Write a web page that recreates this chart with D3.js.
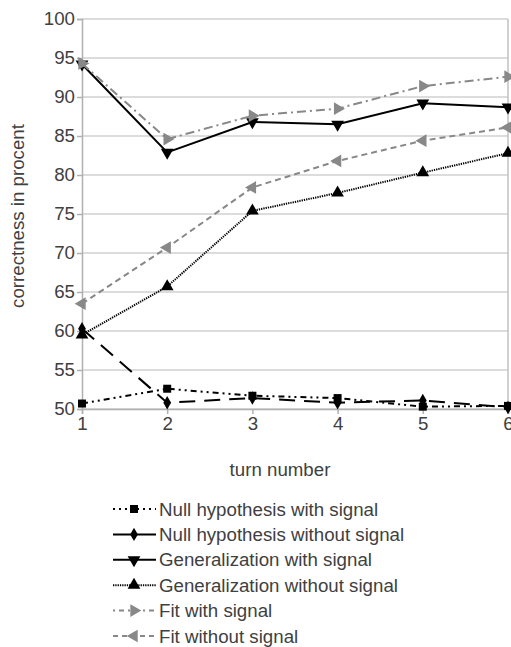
<!DOCTYPE html>
<html><head><meta charset="utf-8">
<script src="https://cdn.jsdelivr.net/npm/d3@7"></script>
<style>body{margin:0;background:#fff}svg{display:block;font-family:"Liberation Sans",Arial,sans-serif}</style>
</head><body>
<script>
const turns = [1, 2, 3, 4, 5, 6];
const yTicks = [50, 55, 60, 65, 70, 75, 80, 85, 90, 95, 100];
const seriesNames = ["Null hypothesis with signal","Null hypothesis without signal","Generalization with signal","Generalization without signal","Fit with signal","Fit without signal"];
const nullWithSignal = [50.7, 52.6, 51.7, 51.4, 50.3, 50.4];
const nullWithoutSignal = [60.3, 50.8, 51.4, 50.8, 51.1, 50.2];
const genWithSignal = [94.2, 82.9, 86.8, 86.5, 89.2, 88.7];
const genWithoutSignal = [59.5, 65.7, 75.4, 77.7, 80.3, 82.8];
const fitWithSignal = [94.3, 84.6, 87.6, 88.5, 91.4, 92.6];
const fitWithoutSignal = [63.5, 70.7, 78.4, 81.8, 84.4, 86.1];

const W = 511, H = 647;
const FS = "18.7px";
const m = {left: 82, right: 3, top: 19, bottom: 238};
const styles = [
  {color:"#000", dash:"6,4,2,4,2,4", legDash:"2,4", sym:"square"},
  {color:"#000", dash:"16,9", legDash:null, sym:"diamond"},
  {color:"#000", dash:null, legDash:null, sym:"down"},
  {color:"#000", dash:"1.3,1", legDash:"1.3,1", sym:"up"},
  {color:"#888", dash:"9,4,2,4", legDash:"2,4,5,4", sym:"right"},
  {color:"#888", dash:"6,4", legDash:"5,4", sym:"left"}
];
const data = [nullWithSignal, nullWithoutSignal, genWithSignal, genWithoutSignal, fitWithSignal, fitWithoutSignal];

const svg = d3.select("body").append("svg").attr("width", W).attr("height", H);
const x = d3.scaleLinear().domain([1, 6]).range([m.left, W - m.right]);
const y = d3.scaleLinear().domain([50, 100]).range([H - m.bottom, m.top]);

// gridlines
svg.append("g").selectAll("line").data(yTicks).join("line")
  .attr("x1", x(1)).attr("x2", x(6)).attr("y1", d => y(d)).attr("y2", d => y(d))
  .attr("stroke", "#d0d0d0").attr("stroke-width", 1.5);
// right border
svg.append("line").attr("x1", x(6)).attr("x2", x(6)).attr("y1", y(100)).attr("y2", y(50))
  .attr("stroke", "#c0c0c0").attr("stroke-width", 1.5);

// axes
const yAxis = svg.append("g").attr("transform", `translate(${x(1)},0)`)
  .call(d3.axisLeft(y).tickValues(yTicks).tickSize(5).tickPadding(2).tickFormat(d3.format("d")));
const xAxis = svg.append("g").attr("transform", `translate(0,${y(50)})`)
  .call(d3.axisBottom(x).tickValues(turns).tickSize(5).tickPadding(3).tickFormat(d3.format("d")));
[yAxis, xAxis].forEach(g => {
  g.select(".domain").attr("stroke", "#b0b0b0").attr("stroke-width", 1.5);
  g.selectAll(".tick line").attr("stroke", "#b0b0b0").attr("stroke-width", 1.5);
  g.selectAll("text").attr("fill", "#404040").style("font-size", FS)
   .style("font-family", '"Liberation Sans",Arial,sans-serif');
});

// symbols
function symPath(s) {
  if (s === "square") return d3.symbol(d3.symbolSquare, 64)();
  if (s === "diamond") return d3.symbol(d3.symbolDiamond, 52)();
  return d3.symbol(d3.symbolTriangle, 70)();
}
function symRot(s) {
  return {up: 0, down: 180, right: 90, left: -90}[s] || 0;
}

const line = d3.line().x((d, i) => x(turns[i])).y(d => y(d));
data.forEach((vals, k) => {
  const st = styles[k];
  const g = svg.append("g");
  g.append("path").attr("d", line(vals)).attr("fill", "none")
    .attr("stroke", st.color).attr("stroke-width", 2)
    .attr("stroke-dasharray", st.dash);
  g.selectAll("path.m").data(vals).join("path").attr("class", "m")
    .attr("d", symPath(st.sym))
    .attr("transform", (d, i) => `translate(${x(turns[i])},${y(d)}) rotate(${symRot(st.sym)})`)
    .attr("fill", st.color);
});

// axis titles
svg.append("text").attr("transform", `translate(24,216) rotate(-90)`)
  .attr("text-anchor", "middle").attr("fill", "#404040").style("font-size", FS)
  .text("correctness in procent");
svg.append("text").attr("x", 280).attr("y", 476).attr("text-anchor", "middle")
  .attr("fill", "#404040").style("font-size", FS).text("turn number");

// legend
const leg = svg.append("g");
const ly = d3.scalePoint().domain(seriesNames).range([509, 636]);
seriesNames.forEach((name, k) => {
  const st = styles[k];
  const cy = ly(name);
  leg.append("line").attr("x1", 113).attr("x2", 156).attr("y1", cy).attr("y2", cy)
    .attr("stroke", st.color).attr("stroke-width", 2)
    .attr("stroke-dasharray", st.legDash);
  leg.append("path").attr("d", symPath(st.sym))
    .attr("transform", `translate(134,${cy}) rotate(${symRot(st.sym)})`).attr("fill", st.color);
  leg.append("text").attr("x", 159).attr("y", cy).attr("dy", "0.35em")
    .attr("fill", "#404040").style("font-size", FS).text(name);
});
</script>
</body></html>
